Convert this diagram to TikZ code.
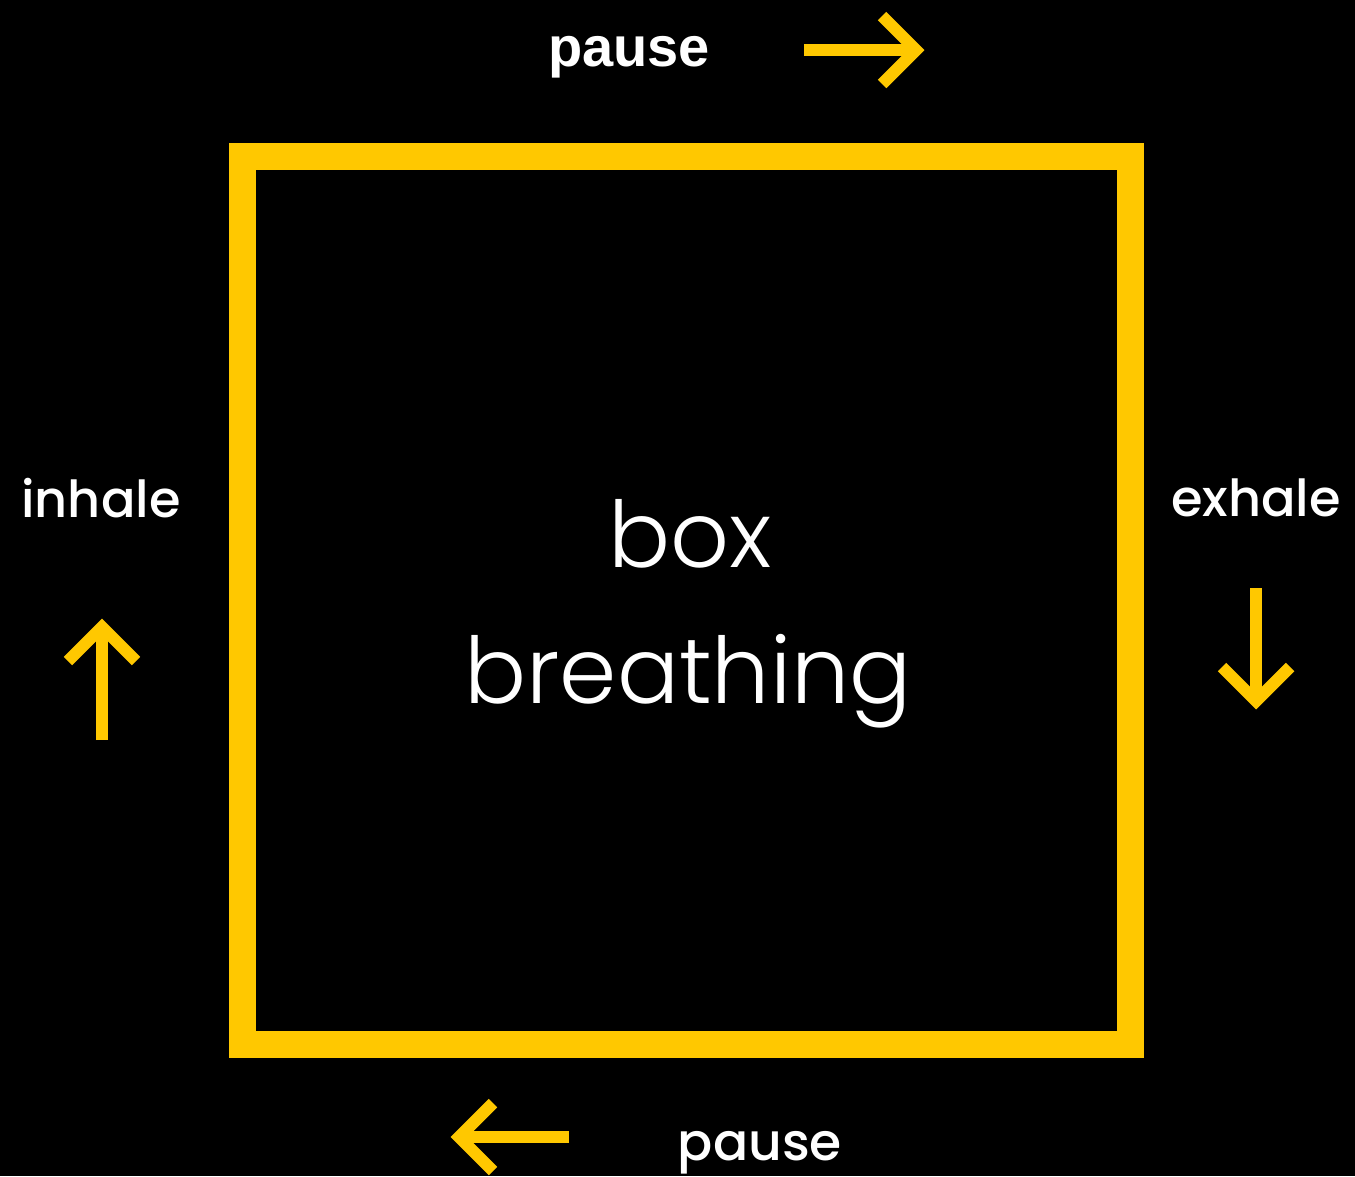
\documentclass[tikz,border=0pt]{standalone}
\usepackage{fontspec}
\usetikzlibrary{calc}
\setmainfont{Poppins}
\newfontfamily\topfont{Liberation Sans}
\newfontfamily\thinfont{Poppins Light}
\newfontfamily\medfont{Poppins Medium}
\definecolor{boxyellow}{RGB}{255,200,0}
\begin{document}
\begin{tikzpicture}[x=1pt,y=-1pt,
  lbl/.style={text=white,inner sep=0pt,anchor=base},
  yarrow/.style={draw=boxyellow,line width=12pt},
  yhead/.style={draw=boxyellow,line width=12pt,line cap=butt,line join=miter}]
\fill[black] (0,0) rectangle (1355,1176);
\useasboundingbox (0,0) rectangle (1355,1176);
% the box
\node[draw=boxyellow,line width=27pt,minimum width=888pt,minimum height=888pt,inner sep=0pt] (box) at (686.5,600.5) {};
% center text
\node[lbl,font=\thinfont\fontsize{92}{100}\selectfont] (t1) at (690,567) {box};
\node[lbl,font=\thinfont\fontsize{92}{100}\selectfont] (t2) at (688,703) {breathing};
% labels
\node[lbl,font=\topfont\bfseries\fontsize{56}{60}\selectfont] (ptop) at (629,66) {pause};
\node[lbl,font=\medfont\fontsize{51}{60}\selectfont] (inh) at (101,517) {inhale};
\node[lbl,font=\medfont\fontsize{51}{60}\selectfont] (exh) at (1256,516) {exhale};
\node[lbl,font=\medfont\fontsize{52}{60}\selectfont] (pbot) at (760,1160) {pause};
% arrows: shaft start / tip coordinates
\coordinate (topS) at (804,50);  \coordinate (topT) at (916,50);
\coordinate (inS) at (102,740);  \coordinate (inT) at (102,627);
\coordinate (exS) at (1256,588); \coordinate (exT) at (1256,701);
\coordinate (boS) at (569,1137); \coordinate (boT) at (459,1137);
\draw[yarrow] (topS) -- (topT);
\draw[yhead] ($(topT)+(-34,-34)$) -- (topT) -- ($(topT)+(-34,34)$);
\draw[yarrow] (inS) -- (inT);
\draw[yhead] ($(inT)+(-34,34)$) -- (inT) -- ($(inT)+(34,34)$);
\draw[yarrow] (exS) -- (exT);
\draw[yhead] ($(exT)+(-34,-34)$) -- (exT) -- ($(exT)+(34,-34)$);
\draw[yarrow] (boS) -- (boT);
\draw[yhead] ($(boT)+(34,-34)$) -- (boT) -- ($(boT)+(34,34)$);
\end{tikzpicture}
\end{document}
